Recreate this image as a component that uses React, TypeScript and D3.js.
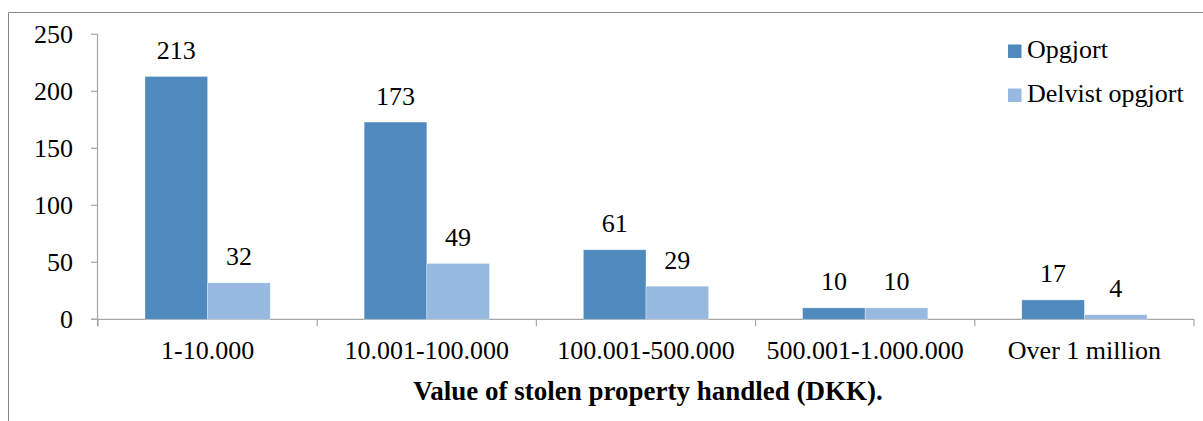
import React from "react";
import * as d3 from "d3";

const categories = ["1-10.000", "10.001-100.000", "100.001-500.000", "500.001-1.000.000", "Over 1 million"];
const seriesNames = ["Opgjort", "Delvist opgjort"];
const opgjort = [213, 173, 61, 10, 17];
const delvist = [32, 49, 29, 10, 4];
const yTicks = [0, 50, 100, 150, 200, 250];
const xTitle = "Value of stolen property handled (DKK).";

const colors = ["#4F89BD", "#97B9E0"];
const W = 1203;
const H = 421;
const ts: React.CSSProperties = { fontFamily: "Liberation Serif", fontSize: "26px" };

export default function App() {
  const left = 98, right = 1194, top = 34.3, bottom = 319.3;
  const x = d3.scaleBand<string>().domain(categories).range([left, right]).paddingInner(0).paddingOuter(0);
  const y = d3.scaleLinear().domain([0, 250]).range([bottom, top]);
  const bw = x.bandwidth();
  const inner = d3.scaleBand<string>().domain(seriesNames).range([0, bw]).paddingInner(0).paddingOuter(0.75);
  const series = [opgjort, delvist];

  return (
    <svg width={W} height={H} style={{ position: "absolute", left: 0, top: 0 }}>
      <rect x={0} y={0} width={W} height={H} fill="#fff" />
      <path d={`M8.5,${H} V12.5 H${W}`} fill="none" stroke="#888" strokeWidth={1} />
      {/* y axis */}
      <line x1={left - 0.5} x2={left - 0.5} y1={top} y2={bottom + 7} stroke="#A6A6A6" strokeWidth={1.2} />
      {yTicks.map((t) => (
        <g key={t}>
          <line x1={left - 7} x2={left} y1={y(t)} y2={y(t)} stroke="#A6A6A6" strokeWidth={1.2} />
          <text x={73} y={y(t) + 8.8} textAnchor="end" style={ts} fill="#000">{t}</text>
        </g>
      ))}
      {/* x axis */}
      <line x1={left - 7} x2={right} y1={bottom} y2={bottom} stroke="#A6A6A6" strokeWidth={1.2} />
      {categories.map((c) => (
        <line key={"t" + c} x1={x(c)!} x2={x(c)!} y1={bottom} y2={bottom + 7} stroke="#A6A6A6" strokeWidth={1.2} />
      ))}
      <line x1={right} x2={right} y1={bottom} y2={bottom + 7} stroke="#A6A6A6" strokeWidth={1.2} />
      {/* bars */}
      {categories.map((c, i) => (
        <g key={c}>
          {seriesNames.map((s, j) => {
            const v = series[j][i];
            const bx = x(c)! + inner(s)!;
            return (
              <g key={s}>
                <rect x={bx} y={y(v)} width={inner.bandwidth()} height={bottom - y(v)} fill={colors[j]} stroke="#ffffff" strokeOpacity={0.4} strokeWidth={0.8} />
                <text x={bx + inner.bandwidth() / 2} y={y(v) - 17.5} textAnchor="middle" style={ts} fill="#000">{v}</text>
              </g>
            );
          })}
          <text x={x(c)! + bw / 2} y={bottom + 40} textAnchor="middle" style={ts} fill="#000">{c}</text>
        </g>
      ))}
      <text x={648} y={400} textAnchor="middle" style={{ ...ts, fontSize: "27px", fontWeight: "bold" }} fill="#000">{xTitle}</text>
      {/* legend */}
      {seriesNames.map((s, j) => (
        <g key={s}>
          <rect x={1008} y={44.5 + j * 44} width={13.5} height={13.5} fill={colors[j]} />
          <text x={1027} y={58.3 + j * 44} style={ts} fill="#000">{s}</text>
        </g>
      ))}
    </svg>
  );
}
